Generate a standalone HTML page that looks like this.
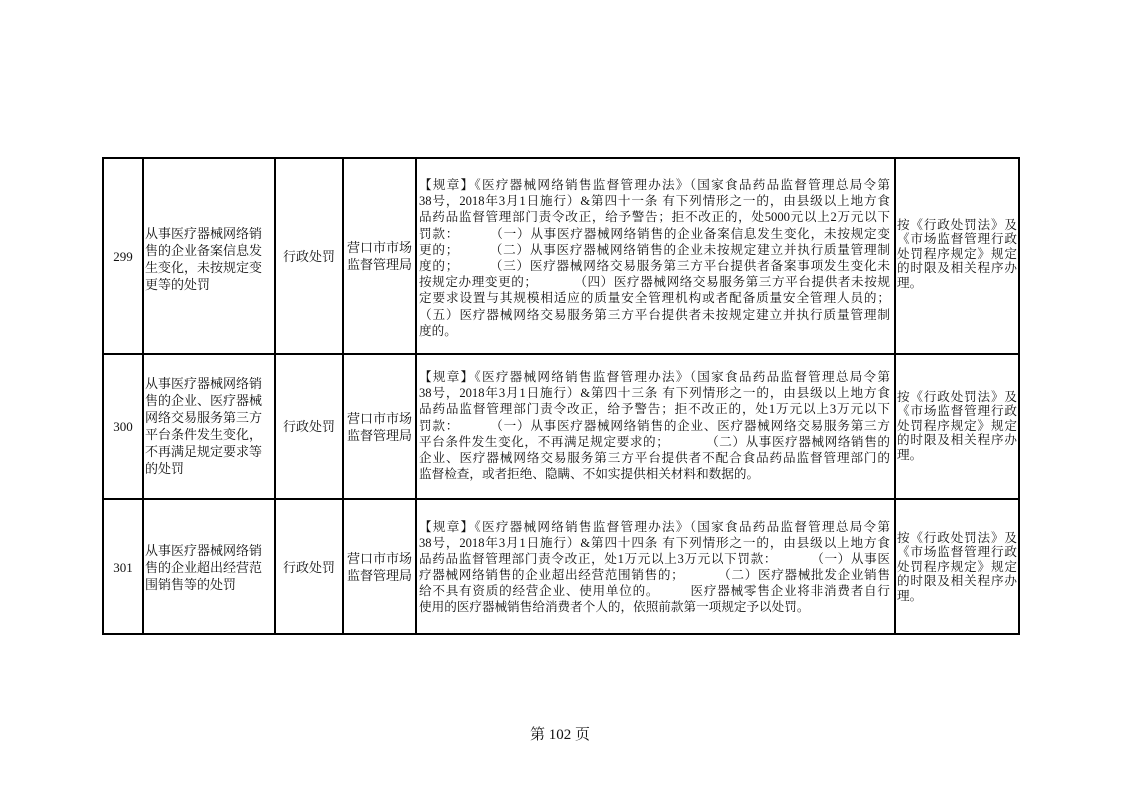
<!DOCTYPE html>
<html><head><meta charset="utf-8"><style>
body{margin:0;width:1122px;height:793px;background:#fff;position:relative;overflow:hidden;font-family:"Liberation Serif","Noto Serif CJK SC",serif;color:#111}
.l{position:absolute;background:#000}
.t{position:absolute;font-size:12.6px;white-space:nowrap}
.t>div{height:16.2px;line-height:16.2px;overflow:visible}
.j{text-align:justify;text-align-last:justify}
.c{text-align:center}
.t.r>div{height:14.6px;line-height:14.6px}
.t.p{font-size:13px}
.t.p>div{height:17px;line-height:17px}
</style></head><body>
<div class="l" style="left:102px;top:157px;width:918px;height:2px"></div>
<div class="l" style="left:102px;top:633px;width:918px;height:2px"></div>
<div class="l" style="left:102px;top:353px;width:918px;height:2px"></div>
<div class="l" style="left:102px;top:498px;width:918px;height:2px"></div>
<div class="l" style="left:102px;top:157px;width:2px;height:478px"></div>
<div class="l" style="left:1018px;top:157px;width:2px;height:478px"></div>
<div class="l" style="left:142px;top:157px;width:2px;height:478px"></div>
<div class="l" style="left:274px;top:157px;width:2px;height:478px"></div>
<div class="l" style="left:342px;top:157px;width:2px;height:478px"></div>
<div class="l" style="left:415px;top:157px;width:2px;height:478px"></div>
<div class="l" style="left:894px;top:157px;width:2px;height:478px"></div>

<!-- row 299 -->
<div class="t p c" style="left:104px;width:38px;top:247.5px"><div>299</div></div>
<div class="t p" style="left:145px;top:224.5px"><div>从事医疗器械网络销</div><div>售的企业备案信息发</div><div>生变化，未按规定变</div><div>更等的处罚</div></div>
<div class="t p c" style="left:276px;width:66px;top:247.5px"><div>行政处罚</div></div>
<div class="t p" style="left:347px;top:239px"><div>营口市市场</div><div>监督管理局</div></div>
<div class="t" style="left:419px;top:177px;width:471px">
<div class="j">【规章】《医疗器械网络销售监督管理办法》（国家食品药品监督管理总局令第</div>
<div class="j">38号，2018年3月1日施行）&amp;第四十一条 有下列情形之一的，由县级以上地方食</div>
<div class="j">品药品监督管理部门责令改正，给予警告；拒不改正的，处5000元以上2万元以下</div>
<div class="j">罚款：&nbsp;&nbsp;&nbsp;&nbsp;&nbsp;&nbsp;&nbsp;&nbsp;（一）从事医疗器械网络销售的企业备案信息发生变化，未按规定变</div>
<div class="j">更的；&nbsp;&nbsp;&nbsp;&nbsp;&nbsp;&nbsp;&nbsp;&nbsp;（二）从事医疗器械网络销售的企业未按规定建立并执行质量管理制</div>
<div class="j">度的；&nbsp;&nbsp;&nbsp;&nbsp;&nbsp;&nbsp;&nbsp;&nbsp;（三）医疗器械网络交易服务第三方平台提供者备案事项发生变化未</div>
<div class="j">按规定办理变更的；&nbsp;&nbsp;&nbsp;&nbsp;&nbsp;&nbsp;&nbsp;&nbsp;&nbsp;&nbsp;（四）医疗器械网络交易服务第三方平台提供者未按规</div>
<div class="j">定要求设置与其规模相适应的质量安全管理机构或者配备质量安全管理人员的；</div>
<div class="j">（五）医疗器械网络交易服务第三方平台提供者未按规定建立并执行质量管理制</div>
<div>度的。</div>
</div>
<div class="t r" style="left:897px;top:217.5px;width:120px">
<div class="j">按《行政处罚法》及</div><div class="j">《市场监督管理行政</div><div class="j">处罚程序规定》规定</div><div class="j">的时限及相关程序办</div><div>理。</div></div>

<!-- row 300 -->
<div class="t p c" style="left:104px;width:38px;top:417.5px"><div>300</div></div>
<div class="t p" style="left:145px;top:375px"><div>从事医疗器械网络销</div><div>售的企业、医疗器械</div><div>网络交易服务第三方</div><div>平台条件发生变化，</div><div>不再满足规定要求等</div><div>的处罚</div></div>
<div class="t p c" style="left:276px;width:66px;top:417.5px"><div>行政处罚</div></div>
<div class="t p" style="left:347px;top:410px"><div>营口市市场</div><div>监督管理局</div></div>
<div class="t" style="left:419px;top:369px;width:471px">
<div class="j">【规章】《医疗器械网络销售监督管理办法》（国家食品药品监督管理总局令第</div>
<div class="j">38号，2018年3月1日施行）&amp;第四十三条 有下列情形之一的，由县级以上地方食</div>
<div class="j">品药品监督管理部门责令改正，给予警告；拒不改正的，处1万元以上3万元以下</div>
<div class="j">罚款：&nbsp;&nbsp;&nbsp;&nbsp;&nbsp;&nbsp;&nbsp;&nbsp;（一）从事医疗器械网络销售的企业、医疗器械网络交易服务第三方</div>
<div class="j">平台条件发生变化，不再满足规定要求的；&nbsp;&nbsp;&nbsp;&nbsp;&nbsp;&nbsp;&nbsp;&nbsp;&nbsp;&nbsp;（二）从事医疗器械网络销售的</div>
<div class="j">企业、医疗器械网络交易服务第三方平台提供者不配合食品药品监督管理部门的</div>
<div>监督检查，或者拒绝、隐瞒、不如实提供相关材料和数据的。</div>
</div>
<div class="t r" style="left:897px;top:389.5px;width:120px">
<div class="j">按《行政处罚法》及</div><div class="j">《市场监督管理行政</div><div class="j">处罚程序规定》规定</div><div class="j">的时限及相关程序办</div><div>理。</div></div>

<!-- row 301 -->
<div class="t p c" style="left:104px;width:38px;top:558.5px"><div>301</div></div>
<div class="t p" style="left:145px;top:541.5px"><div>从事医疗器械网络销</div><div>售的企业超出经营范</div><div>围销售等的处罚</div></div>
<div class="t p c" style="left:276px;width:66px;top:558.5px"><div>行政处罚</div></div>
<div class="t p" style="left:347px;top:550px"><div>营口市市场</div><div>监督管理局</div></div>
<div class="t" style="left:419px;top:518.5px;width:471px">
<div class="j">【规章】《医疗器械网络销售监督管理办法》（国家食品药品监督管理总局令第</div>
<div class="j">38号，2018年3月1日施行）&amp;第四十四条 有下列情形之一的，由县级以上地方食</div>
<div class="j">品药品监督管理部门责令改正，处1万元以上3万元以下罚款：&nbsp;&nbsp;&nbsp;&nbsp;&nbsp;&nbsp;&nbsp;&nbsp;&nbsp;（一）从事医</div>
<div class="j">疗器械网络销售的企业超出经营范围销售的；&nbsp;&nbsp;&nbsp;&nbsp;&nbsp;&nbsp;&nbsp;&nbsp;&nbsp;（二）医疗器械批发企业销售</div>
<div class="j">给不具有资质的经营企业、使用单位的。&nbsp;&nbsp;&nbsp;&nbsp;&nbsp;&nbsp;&nbsp;&nbsp;医疗器械零售企业将非消费者自行</div>
<div>使用的医疗器械销售给消费者个人的，依照前款第一项规定予以处罚。</div>
</div>
<div class="t r" style="left:897px;top:530.5px;width:120px">
<div class="j">按《行政处罚法》及</div><div class="j">《市场监督管理行政</div><div class="j">处罚程序规定》规定</div><div class="j">的时限及相关程序办</div><div>理。</div></div>

<div class="t c" style="left:500px;width:120px;top:725px;font-size:15px"><div style="height:20px;line-height:20px">第 102 页</div></div>
</body></html>
